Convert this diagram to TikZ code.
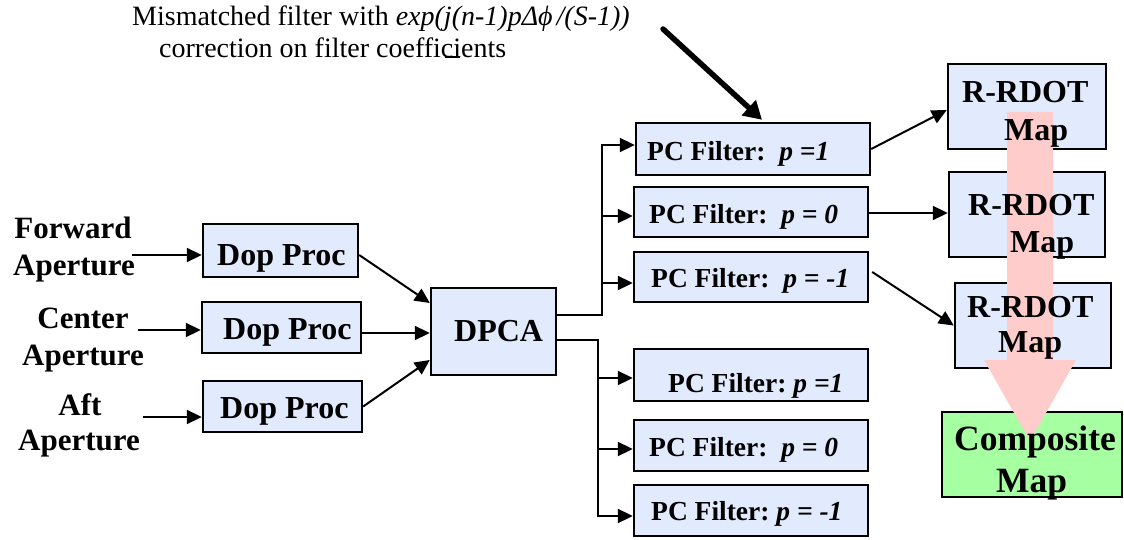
\documentclass[tikz,border=0pt]{standalone}
\usepackage{fontspec}
\setmainfont{Liberation Serif}
\usetikzlibrary{arrows.meta,calc}
\definecolor{boxblue}{RGB}{226,235,253}
\definecolor{mapgreen}{RGB}{166,255,160}
\definecolor{arrowpink}{RGB}{255,204,204}
\tikzset{
  blockbox/.style={draw=black, line width=2.4pt, fill=boxblue, inner sep=0pt},
  greenbox/.style={blockbox, fill=mapgreen},
  lbl/.style={anchor=base west, inner sep=0pt, font=\fontsize{32}{38}\selectfont\bfseries},
  lblc/.style={anchor=base, inner sep=0pt, font=\fontsize{31}{37}\selectfont\bfseries},
  pclbl/.style={anchor=base west, inner sep=0pt, font=\fontsize{27.5}{33}\selectfont\bfseries},
  complbl/.style={anchor=base west, inner sep=0pt, font=\fontsize{35.5}{42}\selectfont\bfseries},
  notelbl/.style={anchor=base west, inner sep=0pt, font=\fontsize{28}{33}\selectfont},
  conn/.style={line width=2pt},
  arr/.style={conn, -{Triangle[length=15pt,width=14pt]}},
  bigarr/.style={line width=5.5pt, line cap=round, -{Triangle[length=18pt,width=20pt]}},
}
\begin{document}
\begin{tikzpicture}[x=1pt,y=-1pt]
\useasboundingbox (0,0) rectangle (1124,540);
% boxes
\node[blockbox, minimum width=155pt, minimum height=53pt] (dop1) at (280.5,250.5) {};
\node[blockbox, minimum width=159pt, minimum height=51pt] (dop2) at (281.5,327.5) {};
\node[blockbox, minimum width=159pt, minimum height=51pt] (dop3) at (282.5,406.5) {};
\node[blockbox, minimum width=125pt, minimum height=87pt] (dpca) at (493.5,331.5) {};
\node[blockbox, minimum width=234pt, minimum height=52pt] (pc1) at (753,149) {};
\node[blockbox, minimum width=234pt, minimum height=50pt] (pc2) at (751,212) {};
\node[blockbox, minimum width=234pt, minimum height=50pt] (pc3) at (751,277) {};
\node[blockbox, minimum width=234pt, minimum height=52pt] (pc4) at (751,375) {};
\node[blockbox, minimum width=234pt, minimum height=51pt] (pc5) at (751,445.5) {};
\node[blockbox, minimum width=234pt, minimum height=51pt] (pc6) at (751,510.5) {};
\node[blockbox, minimum width=158pt, minimum height=85pt] (rd1) at (1027,106.5) {};
\node[blockbox, minimum width=156pt, minimum height=85pt] (rd2) at (1027,214.5) {};
\node[blockbox, minimum width=156pt, minimum height=85pt] (rd3) at (1033,325.5) {};
\node[greenbox, minimum width=180pt, minimum height=85pt] (comp) at (1032,454.5) {};

% inputs
\coordinate (fwdin) at (132,255);
\coordinate (cenin) at (138,330);
\coordinate (aftin) at (143,417);
\draw[arr] (fwdin) -- (fwdin -| dop1.west);
\draw[arr] (cenin) -- (cenin -| dop2.west);
\draw[arr] (aftin) -- (aftin -| dop3.west);

% dop -> dpca
\draw[arr] ($(dop1.east)+(0,4.5)$) -- ($(dpca.west)+(0,-28.5)$);
\draw[arr] ($(dop2.east)+(0,5.5)$) -- ($(dpca.west)+(0,1.5)$);
\draw[arr] (dop3.east) -- ($(dpca.west)+(0,28.5)$);

% dpca -> pc filters
\coordinate (ut) at (602,315);
\coordinate (lt) at (598,340);
\coordinate (b1) at ($(pc1.west)+(0,-4)$);
\coordinate (b2) at ($(pc2.west)+(0,4)$);
\coordinate (b3) at ($(pc3.west)+(0,6)$);
\coordinate (b4) at ($(pc4.west)+(0,3)$);
\coordinate (b5) at ($(pc5.west)+(0,3.5)$);
\coordinate (b6) at ($(pc6.west)+(0,5.5)$);
\draw[arr] (dpca.east |- ut) -- (ut) -- (ut |- b1) -- (b1);
\draw[arr] (ut |- b2) -- (b2);
\draw[arr] (ut |- b3) -- (b3);
\draw[arr] (dpca.east |- lt) -- (lt) -- (lt |- b6) -- (b6);
\draw[arr] (lt |- b4) -- (b4);
\draw[arr] (lt |- b5) -- (b5);

% pc -> rdot
\draw[arr] (pc1.east) -- ($(rd1.west)+(0,3.5)$);
\draw[arr] ($(pc2.east)+(0,1)$) -- ($(rd2.west)+(0,-1.5)$);
\draw[arr] ($(pc3.east)+(3,-5)$) -- (rd3.west);

% annotation arrow
\coordinate (notetail) at (663,29);
\draw[bigarr] (notetail) -- ($(pc1.north)+(9,-2)$);

% pink arrow
\fill[arrowpink] (1007,112) -- (1053,112) -- (1053,360) -- (1076,360) -- (1030,441) -- (984,360) -- (1007,360) -- cycle;

% texts
\node[lblc] (tfw1) at (73,238) {Forward};
\node[lblc] (tfw2) at (74,275) {Aperture};
\node[lblc] (tce1) at (83,328) {Center};
\node[lblc] (tce2) at (83,365) {Aperture};
\node[lblc] (taf1) at (80,415) {Aft};
\node[lblc] (taf2) at (79,450) {Aperture};
\node[lbl] (tdop1) at (217,265) {Dop Proc};
\node[lbl] (tdop2) at (223,339) {Dop Proc};
\node[lbl] (tdop3) at (220,418) {Dop Proc};
\node[lbl] (tdpca) at (454,341) {DPCA};
\node[pclbl] (tpc1) at (647,161) {PC Filter:~~\textit{p =1}};
\node[pclbl] (tpc2) at (649,223) {PC Filter:~~\textit{p = 0}};
\node[pclbl] (tpc3) at (651,287) {PC Filter:~~\textit{p = -1}};
\node[pclbl] (tpc4) at (668,392) {PC Filter:~\textit{p =1}};
\node[pclbl] (tpc5) at (649,456) {PC Filter:~~\textit{p = 0}};
\node[pclbl] (tpc6) at (651,520) {PC Filter:~\textit{p = -1}};
\node[lbl] (trd1a) at (962,103) {R-RDOT};
\node[lbl] (trd1b) at (1004,141) {Map};
\node[lbl] (trd2a) at (968,215) {R-RDOT};
\node[lbl] (trd2b) at (1010,252) {Map};
\node[lbl] (trd3a) at (967,317) {R-RDOT};
\node[lbl] (trd3b) at (998,352) {Map};
\node[complbl] (tcomp1) at (954,450) {Composite};
\node[complbl] (tcomp2) at (996,492) {Map};
\node[notelbl] (note1) at (132,26) {Mismatched filter with \textit{exp(j(n-1)pΔϕ\hspace{4pt}/(S-1))}};
\node[notelbl] (note2) at (159,58) {correction on filter coefficients};
\coordinate (s1) at (445,57);
\coordinate (s2) at (460,57);
\draw[line width=1.3pt] (s1) -- (s2);
\end{tikzpicture}
\end{document}
